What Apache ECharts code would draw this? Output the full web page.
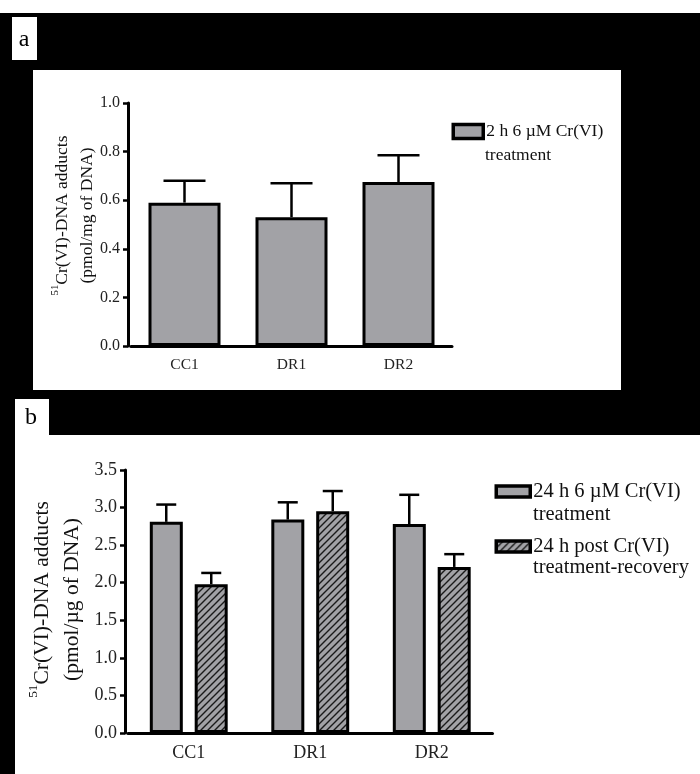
<!DOCTYPE html>
<html>
<head>
<meta charset="utf-8">
<script src="https://cdn.jsdelivr.net/npm/echarts@6/dist/echarts.min.js"></script>
<style>
  html, body { margin: 0; padding: 0; background: #000; }
  #chart { width: 700px; height: 774px; }
</style>
</head>
<body>
<div id="chart"></div>
<script>
// data
const categories = ['CC1', 'DR1', 'DR2']
const adducts2h = [0.59, 0.53, 0.675]
const adducts2hErr = [0.09, 0.14, 0.11]
const adducts24h = [2.81, 2.84, 2.78]
const adducts24hErr = [0.23, 0.23, 0.39]
const recovery24h = [1.98, 2.95, 2.21]
const recovery24hErr = [0.15, 0.27, 0.17]

const FONT = 'Liberation Serif'
const GREY = '#a2a2a6'

// diagonal hatch for the recovery bars
function hatchPattern() {
  const s = 7
  const c = document.createElement('canvas')
  c.width = s
  c.height = s
  const ctx = c.getContext('2d')
  ctx.fillStyle = GREY
  ctx.fillRect(0, 0, s, s)
  ctx.strokeStyle = '#1a1a1a'
  ctx.lineWidth = 1.4
  ctx.beginPath()
  ctx.moveTo(0, s); ctx.lineTo(s, 0)
  ctx.moveTo(-1, 1); ctx.lineTo(1, -1)
  ctx.moveTo(s - 1, s + 1); ctx.lineTo(s + 1, s - 1)
  ctx.stroke()
  return { image: c, repeat: 'repeat' }
}
const HATCH = hatchPattern()

const chart = echarts.init(document.getElementById('chart'))

// error bars (upper whisker only)
function errorSeries(name, xAxisIndex, yAxisIndex, vals, errs, offset, capWidth) {
  return {
    name,
    type: 'custom',
    xAxisIndex,
    yAxisIndex,
    z: 1,
    data: vals.map((v, i) => [i, v, errs[i]]),
    renderItem: (params, api) => {
      const base = api.coord([api.value(0), api.value(1)])
      const top = api.coord([api.value(0), api.value(1) + api.value(2)])
      const x = base[0] + offset
      const style = { stroke: '#000', lineWidth: 2.5 }
      return {
        type: 'group',
        children: [
          { type: 'line', shape: { x1: x, y1: base[1], x2: x, y2: top[1] }, style },
          { type: 'line', shape: { x1: x - capWidth / 2, y1: top[1], x2: x + capWidth / 2, y2: top[1] }, style }
        ]
      }
    }
  }
}

const yName = unit => '{sup|51}{n|Cr(VI)-DNA adducts}\n{n|(pmol/' + unit + ' of DNA)}'

function yAxis(max, interval, unit, labelSize, nameSize, nameGap, shiftUp) {
  return {
    type: 'value',
    min: 0,
    max,
    interval,
    offset: 3,
    name: yName(unit),
    nameLocation: 'middle',
    nameRotate: 90,
    nameGap,
    nameTextStyle: {
      fontFamily: FONT,
      color: '#111',
      padding: [0, 0, 0, shiftUp * 2],
      rich: {
        n: { fontFamily: FONT, fontSize: nameSize, lineHeight: nameSize * 1.42, color: '#111' },
        sup: { fontFamily: FONT, fontSize: nameSize * 0.62, verticalAlign: 'top', color: '#111' }
      }
    },
    axisLine: { show: true, lineStyle: { color: '#000', width: 3 } },
    axisTick: { show: true, length: 5, lineStyle: { color: '#000', width: 2.5 } },
    axisLabel: { fontFamily: FONT, fontSize: labelSize, color: '#222', margin: 8, formatter: v => v.toFixed(1) },
    splitLine: { show: false }
  }
}

function xAxis(gridIndex, labelSize) {
  return {
    type: 'category',
    gridIndex,
    data: categories,
    axisLine: { lineStyle: { color: '#000', width: 3 } },
    axisTick: { alignWithLabel: true, length: 6, lineStyle: { color: '#000', width: 2.5 } },
    axisLabel: { fontFamily: FONT, fontSize: labelSize, color: '#222', margin: 11 }
  }
}

function legend(name, left, top, w, h, size) {
  return {
    data: [name],
    left, top,
    padding: 0,
    icon: 'rect',
    itemWidth: w, itemHeight: h,
    itemStyle: { borderColor: '#000', borderWidth: 3.5 },
    textStyle: { fontFamily: FONT, fontSize: size, color: '#111', padding: [0, 0, 0, -2] }
  }
}

const barBorder = { borderColor: '#000', borderWidth: 3 }

const option = {
  backgroundColor: '#000',
  animation: false,
  graphic: [
    { type: 'rect', z: -10, shape: { x: 0, y: 0, width: 700, height: 13 }, style: { fill: '#fff' } },
    { type: 'rect', z: -10, shape: { x: 12, y: 17, width: 25, height: 43 }, style: { fill: '#fff' } },
    { type: 'text', z: -9, x: 24, y: 40, style: { text: 'a', fontFamily: FONT, fontSize: 24, fill: '#000', align: 'center', verticalAlign: 'middle' } },
    { type: 'rect', z: -10, shape: { x: 33, y: 70, width: 588, height: 320 }, style: { fill: '#fff' } },
    { type: 'rect', z: -10, shape: { x: 15, y: 399, width: 34, height: 40 }, style: { fill: '#fff' } },
    { type: 'text', z: -9, x: 31, y: 418, style: { text: 'b', fontFamily: FONT, fontSize: 24, fill: '#000', align: 'center', verticalAlign: 'middle' } },
    { type: 'rect', z: -10, shape: { x: 15, y: 435, width: 685, height: 339 }, style: { fill: '#fff' } },
    { type: 'text', x: 485, y: 155, style: { text: 'treatment', fontFamily: FONT, fontSize: 17.5, fill: '#111', verticalAlign: 'middle' } },
    { type: 'text', x: 533, y: 515, style: { text: 'treatment', fontFamily: FONT, fontSize: 20.5, fill: '#111', verticalAlign: 'middle' } },
    { type: 'text', x: 533, y: 568, style: { text: 'treatment-recovery', fontFamily: FONT, fontSize: 20.5, fill: '#111', verticalAlign: 'middle' } }
  ],
  legend: [
    legend('2 h 6 µM Cr(VI)', 451.5, 122.5, 30, 14, 17.5),
    legend('24 h 6 µM Cr(VI)', 494.5, 481, 34, 11, 20.5),
    legend('24 h post Cr(VI)', 494.5, 536, 34, 11, 20.5)
  ],
  grid: [
    { left: 131, top: 103, width: 321, height: 243 },
    { left: 128, top: 470, width: 364.5, height: 263 }
  ],
  xAxis: [xAxis(0, 15.5), xAxis(1, 18)],
  yAxis: [
    Object.assign(yAxis(1.0, 0.2, 'mg', 16, 17.5, 28, 9), { gridIndex: 0 }),
    Object.assign(yAxis(3.5, 0.5, 'µg', 18, 21.5, 30, 2), { gridIndex: 1 })
  ],
  series: [
    {
      name: '2 h 6 µM Cr(VI)',
      type: 'bar',
      xAxisIndex: 0, yAxisIndex: 0,
      barWidth: 72,
      data: adducts2h,
      itemStyle: Object.assign({ color: GREY }, barBorder)
    },
    errorSeries('err2h', 0, 0, adducts2h, adducts2hErr, 0, 42),
    {
      name: '24 h 6 µM Cr(VI)',
      type: 'bar',
      xAxisIndex: 1, yAxisIndex: 1,
      barWidth: 33,
      barGap: '36%',
      data: adducts24h,
      itemStyle: Object.assign({ color: GREY }, barBorder)
    },
    {
      name: '24 h post Cr(VI)',
      type: 'bar',
      xAxisIndex: 1, yAxisIndex: 1,
      barWidth: 33,
      barGap: '36%',
      data: recovery24h,
      itemStyle: Object.assign({ color: HATCH }, barBorder)
    },
    errorSeries('err24h', 1, 1, adducts24h, adducts24hErr, -22.5, 20),
    errorSeries('errRec', 1, 1, recovery24h, recovery24hErr, 22.5, 20)
  ]
}

chart.setOption(option)
</script>
</body>
</html>
